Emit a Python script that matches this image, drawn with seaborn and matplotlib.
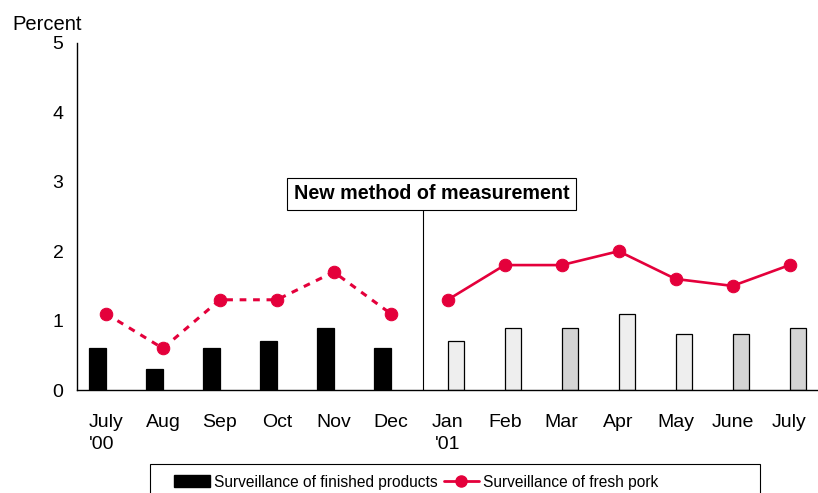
import matplotlib
matplotlib.use("Agg")
import matplotlib.pyplot as plt
import seaborn as sns
import pandas as pd
import numpy as np
from matplotlib.patches import Patch, Rectangle
from matplotlib.lines import Line2D

months = ["July\n'00", "Aug", "Sep", "Oct", "Nov", "Dec", "Jan\n'01", "Feb", "Mar", "Apr", "May", "June", "July"]
finished = [0.6, 0.3, 0.6, 0.7, 0.9, 0.6, 0.7, 0.9, 0.9, 1.1, 0.8, 0.8, 0.9]
fresh_pork = [1.1, 0.6, 1.3, 1.3, 1.7, 1.1, 1.3, 1.8, 1.8, 2.0, 1.6, 1.5, 1.8]
method = ["old"] * 6 + ["new"] * 7
bar_colors = ["#000000"] * 6 + ["#eeeeee", "#eeeeee", "#d4d4d4", "#eeeeee", "#eeeeee", "#d4d4d4", "#d4d4d4"]
split = 6  # first month measured with the new method
red = "#e4003b"

sns.set_theme(style="white")
plt.rcParams["font.family"] = ["Liberation Sans", "DejaVu Sans"]
plt.rcParams["text.color"] = "black"
plt.rcParams["xtick.color"] = "black"
plt.rcParams["ytick.color"] = "black"
plt.rcParams["axes.labelcolor"] = "black"

df = pd.DataFrame({"month": months, "finished": finished, "pork": fresh_pork,
                   "method": method, "pos": np.arange(len(months))})

fig = plt.figure(figsize=(8.18, 4.93), dpi=100)
ax = fig.add_axes([0.0947, 0.2089, 1 - 0.0947, 0.9128 - 0.2089])

sns.barplot(data=df, x="month", y="finished", hue="method", hue_order=["old", "new"],
            palette={"old": "#000000", "new": "#eeeeee"}, dodge=True, width=0.58,
            legend=False, edgecolor="#000000", linewidth=0.9, ax=ax, saturation=1)
for p in ax.patches:
    cx = p.get_x() + p.get_width() / 2
    idx = int(round(cx))
    if 0 <= idx < len(bar_colors):
        p.set_facecolor(bar_colors[idx])

old = df.iloc[:split]
new = df.iloc[split:]
sns.lineplot(data=old, x="pos", y="pork", color=red, linestyle=(0, (2.2, 2.2)), linewidth=2.2,
             marker="o", markersize=9, markeredgecolor=red, ax=ax)
sns.lineplot(data=new, x="pos", y="pork", color=red, linewidth=1.9,
             marker="o", markersize=9, markeredgecolor=red, ax=ax)

ax.set_xlim(-0.5, -0.5 + (818 - 77.5) / 57.2)
ax.set_ylim(0, 5)
ax.set_yticks(range(0, 6))
ax.set_xticks(np.arange(len(months)))
ax.set_xticklabels(months, fontsize=14, ha="center", va="top", color="black")
ax.tick_params(axis="x", length=0, pad=17)
ax.set_xticks(np.arange(len(months) + 1) - 0.5, minor=True)
ax.tick_params(axis="x", which="minor", length=6, width=1, color="black", direction="out")
labs = ax.get_xticklabels()
for lab in labs:
    lab.set_linespacing(1.45)
labs[0].set_multialignment("left")
ax.tick_params(axis="y", labelsize=14, length=5, width=1, color="black", labelcolor="black",
               direction="out", pad=5)
ax.set_xlabel("")
ax.set_ylabel("")
for s in ["top", "right"]:
    ax.spines[s].set_visible(False)
for s in ["left", "bottom"]:
    ax.spines[s].set_color("black")
    ax.spines[s].set_linewidth(1)

fig.text(0.0147, 0.951, "Percent", fontsize=14.5, ha="left", va="center", color="black")

# method change marker
ax.plot([5.563, 5.563], [0, 2.59], color="black", linewidth=0.8)
ax.text(5.715, 2.83, "New method of measurement", fontsize=14.2, fontweight="bold",
        ha="center", va="center", color="black",
        bbox=dict(boxstyle="square,pad=0.33", facecolor="white", edgecolor="black", linewidth=0.8))

# legend box (cut off at the bottom edge as in the original)
fig.patches.append(Rectangle((150 / 818, -0.05), (760 - 150) / 818, 0.05 + (493 - 464) / 493,
                             transform=fig.transFigure, facecolor="white", edgecolor="black",
                             linewidth=0.8, zorder=1))
handles = [Patch(facecolor="black", edgecolor="black"),
           Line2D([0], [0], color=red, linewidth=2, marker="o", markersize=8)]
leg = fig.legend(handles, ["Surveillance of finished products", "Surveillance of fresh pork"],
                 loc="center left", bbox_to_anchor=(174 / 818, 1 - 482 / 493), ncol=2, fontsize=11.2,
                 frameon=False, handlelength=2.3, handleheight=0.8,
                 handletextpad=0.25, columnspacing=0.4, borderpad=0.0, borderaxespad=0)
for t in leg.get_texts():
    t.set_color("black")
leg.set_zorder(3)

fig.savefig("out.png", dpi=100)
